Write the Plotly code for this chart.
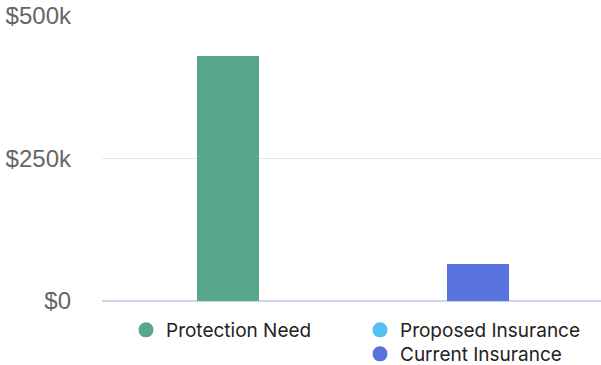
import plotly.graph_objects as go

categories = ["Need", "Insurance"]
series_names = ["Protection Need", "Proposed Insurance", "Current Insurance"]
protection_need = [430000, 0]
proposed_insurance = [0, 0]
current_insurance = [0, 65000]
colors = ["#57a78b", "#53c1f0", "#5873de"]
tick_vals = [0, 250000, 500000]
tick_text = ["$0", "$250k", "$500k"]

values = [protection_need, proposed_insurance, current_insurance]

fig = go.Figure()
for name, vals, col in zip(series_names, values, colors):
    fig.add_trace(go.Bar(x=categories, y=vals, marker=dict(color=col, line=dict(width=0)),
                         showlegend=False, name=name))

legend_ids = ["legend", "legend2", "legend3"]
for name, col, lg in zip(series_names, colors, legend_ids):
    fig.add_trace(go.Scatter(x=[None], y=[None], mode="markers", name=name,
                             marker=dict(color=col, size=15, symbol="circle"),
                             legend=lg, showlegend=True))

W, H = 601, 365
L, R, T, B = 102, 0, 16, 64

def cx(x):
    return x / W

def cy(y):
    return 1 - y / H

legend_font = dict(family="Inter", size=19, color="#222222")

def leg(x, y):
    return dict(x=cx(x), y=cy(y), xref="container", yref="container",
                xanchor="left", yanchor="top", orientation="v",
                font=legend_font, bgcolor="rgba(0,0,0,0)", itemclick=False,
                borderwidth=0)

fig.update_layout(
    width=W, height=H,
    margin=dict(l=L, r=R, t=T, b=B, autoexpand=False),
    barmode="stack",
    bargap=0.752,
    plot_bgcolor="white",
    paper_bgcolor="white",
    xaxis=dict(showticklabels=False, showgrid=False, zeroline=False,
               showline=False, ticks="", range=[-0.504, 1.492]),
    yaxis=dict(range=[0, 500000], tickvals=tick_vals, ticktext=tick_text,
               showgrid=True, gridcolor="#e6e6e6", gridwidth=1,
               zeroline=True, zerolinecolor="#cdd5ea", zerolinewidth=2,
               tickfont=dict(family="Liberation Sans", size=24, color="#666666"),
               ticklabelstandoff=30, fixedrange=True),
    legend=leg(126, 311),
    legend2=leg(360, 311),
    legend3=leg(360, 335),
)

fig.write_html("out.html", config={"displayModeBar": False})
